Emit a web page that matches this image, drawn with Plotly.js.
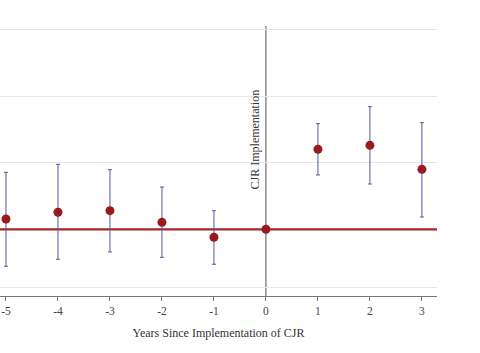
<!DOCTYPE html>
<html><head><meta charset="utf-8">
<script src="https://cdn.plot.ly/plotly-3.0.1.min.js"></script>
<style>html,body{margin:0;padding:0;background:#fff;}</style>
</head><body><div id="chart" style="width:480px;height:353px;"></div>
<script>
const years = [-5, -4, -3, -2, -1, 0, 1, 2, 3];
const estimates = [0.155, 0.256, 0.28, 0.105, -0.12, 0, 1.203, 1.263, 0.902];
const ciUpper = [0.857, 0.977, 0.896, 0.636, 0.28, null, 1.588, 1.844, 1.603];
const ciLower = [-0.556, -0.451, -0.341, -0.421, -0.526, null, 0.817, 0.681, 0.185];
const xTicks = [-5, -4, -3, -2, -1, 0, 1, 2, 3];
const yGrid = [-0.87, 1, 2, 3];

const plus = ciUpper.map((u, i) => u === null ? null : u - estimates[i]);
const minus = ciLower.map((l, i) => l === null ? null : estimates[i] - l);

const trace = {
  x: years, y: estimates, type: 'scatter', mode: 'markers',
  marker: {color: '#9a1a1d', size: 9},
  error_y: {type: 'data', symmetric: false, array: plus, arrayminus: minus,
            color: '#4f5a9e', thickness: 1, width: 2},
  hoverinfo: 'none'
};

const layout = {
  width: 480, height: 353,
  margin: {l: 0, r: 43, t: 26, b: 57},
  paper_bgcolor: '#fff', plot_bgcolor: '#fff',
  showlegend: false,
  font: {family: '"Liberation Serif", "DejaVu Serif", serif', color: '#333'},
  xaxis: {
    range: [-5.115, 3.29], tickvals: xTicks, ticktext: xTicks.map(String),
    showgrid: false, zeroline: false, showline: true, linecolor: '#777', linewidth: 1,
    ticks: 'outside', ticklen: 4, tickcolor: '#777', tickfont: {size: 11.5, color: '#444'},
    title: {text: 'Years Since Implementation of CJR', font: {size: 12, color: '#333'}, standoff: 12}
  },
  yaxis: {
    range: [-1.003, 3.057], tickvals: yGrid, showticklabels: false,
    showgrid: true, gridcolor: '#e6e6e6', gridwidth: 1, zeroline: false, showline: false, ticks: ''
  },
  shapes: [
    {type: 'line', xref: 'paper', yref: 'y', x0: 0, x1: 1, y0: 0, y1: 0,
     line: {color: '#a3262b', width: 2.2}, layer: 'between'},
    {type: 'line', xref: 'x', yref: 'paper', x0: 0, x1: 0, y0: 0, y1: 1,
     line: {color: '#555', width: 1}, layer: 'below'}
  ],
  annotations: [
    {text: 'CJR Implementation', x: 0, xref: 'x', xanchor: 'right', xshift: -2,
     y: 1.35, yref: 'y', yanchor: 'middle', textangle: -90, showarrow: false,
     font: {size: 12, color: '#333'}}
  ]
};

Plotly.newPlot('chart', [trace], layout, {displayModeBar: false, staticPlot: true});
</script></body></html>
